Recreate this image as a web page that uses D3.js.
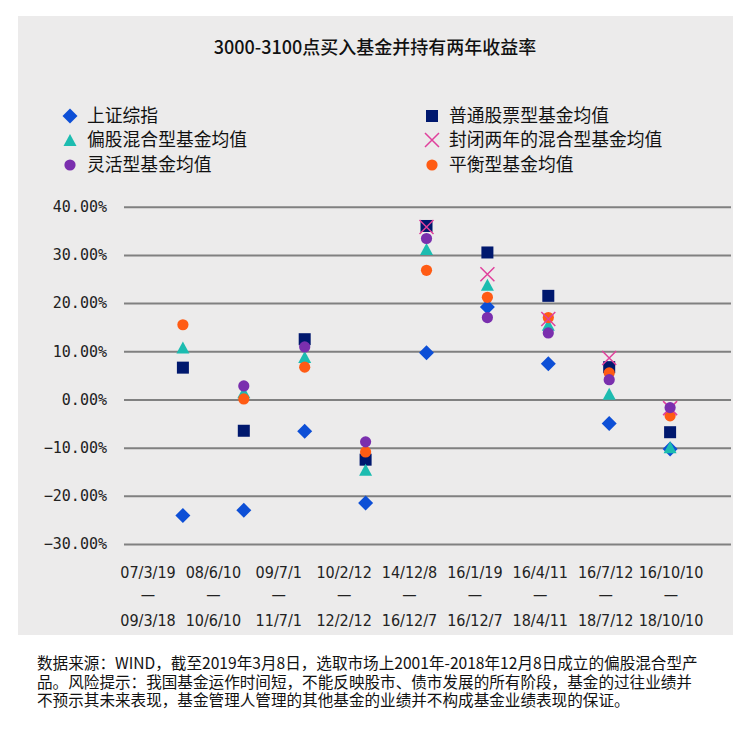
<!DOCTYPE html>
<html>
<head>
<meta charset="utf-8">
<script src="https://cdn.jsdelivr.net/npm/d3@7/dist/d3.min.js"></script>
<style>
  html, body { margin: 0; padding: 0; background: #ffffff; }
  svg { display: block; }
</style>
</head>
<body>
<svg id="chart" width="750" height="746"></svg>
<script>
// ---------------- data ----------------
const startDates = ["07/3/19","08/6/10","09/7/1","10/2/12","14/12/8","16/1/19","16/4/11","16/7/12","16/10/10"];
const endDates   = ["09/3/18","10/6/10","11/7/1","12/2/12","16/12/7","16/12/7","18/4/11","18/7/12","18/10/10"];
const yTicks = [40, 30, 20, 10, 0, -10, -20, -30];

const seriesNames = ["上证综指","普通股票型基金均值","偏股混合型基金均值","封闭两年的混合型基金均值","灵活型基金均值","平衡型基金均值"];
const shIndex      = [-24.1, -23.0, -6.6, -21.5,  9.7, 19.2,  7.4, -5.0, -10.3];
const stockFund    = [  6.6,  -6.5, 12.5, -12.5, 36.0, 30.5, 21.5,  6.7,  -6.8];
const hybridFund   = [ 10.8,   1.5,  8.8, -14.6, 31.2, 23.8, 15.5,  1.2,  -9.9];
const closedFund   = [ null,  null, null,  null, 35.8, 26.0, 16.7,  8.6,  -1.8];
const flexFund     = [ null,   2.8, 10.9,  -8.8, 33.4, 17.0, 13.8,  4.1,  -1.7];
const balancedFund = [ 15.5,   0.1,  6.7, -10.9, 26.8, 21.2, 17.0,  5.5,  -3.4];

const title = "3000-3100点买入基金并持有两年收益率";
const footLines = [
  "数据来源：WIND，截至2019年3月8日，选取市场上2001年-2018年12月8日成立的偏股混合型产",
  "品。风险提示：我国基金运作时间短，不能反映股市、债市发展的所有阶段，基金的过往业绩并",
  "不预示其未来表现，基金管理人管理的其他基金的业绩并不构成基金业绩表现的保证。"
];

// ---------------- styles ----------------
const CJK = "'Noto Sans CJK SC', 'Noto Sans', sans-serif";
const NARROW = "'Liberation Sans Narrow', 'DejaVu Sans Condensed', 'DejaVu Sans', sans-serif";
const MONO = "'DejaVu Sans Mono', 'Liberation Mono', monospace";

const series = [
  { name: seriesNames[0], values: shIndex,      shape: "diamond",  color: "#0d4fd6" },
  { name: seriesNames[1], values: stockFund,    shape: "square",   color: "#00186e" },
  { name: seriesNames[2], values: hybridFund,   shape: "triangle", color: "#1cbcb0" },
  { name: seriesNames[5], values: balancedFund, shape: "circle",   color: "#ff5b14" },
  { name: seriesNames[3], values: closedFund,   shape: "cross",    color: "#e0409c" },
  { name: seriesNames[4], values: flexFund,     shape: "circle",   color: "#7a2fae" }
];

const svg = d3.select("#chart");

// background panel
svg.append("rect").attr("x", 18).attr("y", 16).attr("width", 715).attr("height", 619)
  .attr("fill", "#ecebeb");

// title
svg.append("text").attr("x", 375).attr("y", 48).attr("dy", "0.35em")
  .attr("text-anchor", "middle").attr("font-family", CJK).attr("font-size", 18)
  .attr("font-weight", 500).attr("fill", "#111").text(title);

// scales
const y = d3.scaleLinear().domain([-30, 40]).range([544, 206.7]);
const x = d3.scalePoint().domain(startDates).range([122, 731]).padding(1);
const xLab = d3.scalePoint().domain(startDates).range([148, 671]);

// gridlines + y labels via axis
const yAxis = d3.axisLeft(y).tickValues(yTicks).tickSize(607).tickPadding(17)
  .tickFormat(d => d3.format(".2f")(d) + "%");
const gy = svg.append("g").attr("transform", "translate(731,0)").call(yAxis);
gy.select(".domain").remove();
gy.selectAll(".tick line").attr("stroke", "#808080").attr("stroke-width", 2);
gy.selectAll(".tick text").attr("font-family", MONO).attr("font-size", 15).attr("fill", "#222");

// x labels
const gx = svg.append("g");
startDates.forEach((d, i) => {
  const cx = xLab(d);
  gx.append("text").attr("x", cx).attr("y", 572).attr("dy", "0.35em").attr("text-anchor", "middle")
    .attr("font-family", NARROW).attr("font-size", 16).attr("fill", "#222").text(d);
  gx.append("text").attr("x", cx).attr("y", 594).attr("dy", "0.35em").attr("text-anchor", "middle")
    .attr("font-family", NARROW).attr("font-size", 16).attr("fill", "#222").text("—");
  gx.append("text").attr("x", cx).attr("y", 620).attr("dy", "0.35em").attr("text-anchor", "middle")
    .attr("font-family", NARROW).attr("font-size", 16).attr("fill", "#222").text(endDates[i]);
});

// marker drawing
function drawMarker(g, shape, color, cx, cy) {
  if (shape === "diamond") {
    const r = 7.5;
    g.append("path").attr("d", `M${cx},${cy - r}L${cx + r},${cy}L${cx},${cy + r}L${cx - r},${cy}Z`).attr("fill", color);
  } else if (shape === "square") {
    const s = 12;
    g.append("rect").attr("x", cx - s / 2).attr("y", cy - s / 2).attr("width", s).attr("height", s).attr("fill", color);
  } else if (shape === "triangle") {
    const w = 13, h = 12;
    g.append("path").attr("d", `M${cx},${cy - h / 2}L${cx + w / 2},${cy + h / 2}L${cx - w / 2},${cy + h / 2}Z`).attr("fill", color);
  } else if (shape === "circle") {
    g.append("circle").attr("cx", cx).attr("cy", cy).attr("r", 5.6).attr("fill", color);
  } else if (shape === "cross") {
    const r = 7;
    g.append("path").attr("d", `M${cx - r},${cy - r}L${cx + r},${cy + r}M${cx - r},${cy + r}L${cx + r},${cy - r}`)
      .attr("stroke", color).attr("stroke-width", 1.5).attr("fill", "none");
  }
}

// points
const gp = svg.append("g");
series.forEach(s => {
  s.values.forEach((v, i) => {
    if (v === null) return;
    drawMarker(gp, s.shape, s.color, x(startDates[i]), y(v));
  });
});

// legend
const legendOrder = [0, 1, 2, 4, 5, 3]; // indices into series: row-wise left/right
const legendPos = [
  { lx: 70, ly: 116 }, { lx: 432, ly: 116 },
  { lx: 70, ly: 140 }, { lx: 432, ly: 140 },
  { lx: 70, ly: 165 }, { lx: 432, ly: 165 }
];
const gl = svg.append("g");
legendOrder.forEach((si, k) => {
  const s = series[si];
  const p = legendPos[k];
  drawMarker(gl, s.shape, s.color, p.lx, p.ly);
  gl.append("text").attr("x", p.lx + 17).attr("y", p.ly).attr("dy", "0.35em")
    .attr("font-family", CJK).attr("font-size", 17.8).attr("fill", "#111").text(s.name);
});

// footnote
footLines.forEach((t, i) => {
  svg.append("text").attr("x", 37).attr("y", 664 + i * 18.5).attr("dy", "0.35em")
    .attr("font-family", CJK).attr("font-size", 15.6).attr("fill", "#111").text(t);
});
</script>
</body>
</html>
